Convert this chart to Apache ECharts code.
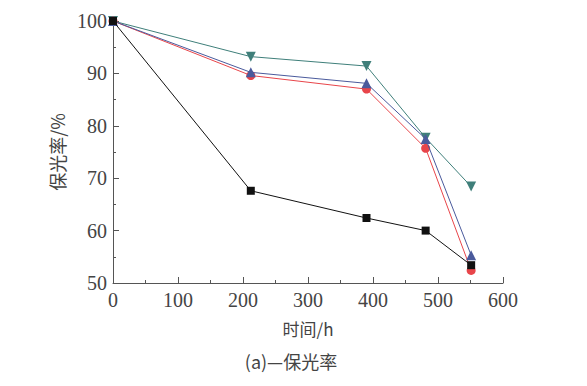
<!DOCTYPE html>
<html><head><meta charset="utf-8">
<script src="https://cdn.jsdelivr.net/npm/echarts@6/dist/echarts.min.js"></script>
<style>html,body{margin:0;padding:0;background:#fff}#c{width:587px;height:386px}</style>
</head><body><div id="c"></div>
<script>
const times = [0, 212, 390, 481, 551];
const seriesBlack = [100, 67.6, 62.4, 60.0, 53.4];
const seriesRed = [100, 89.6, 87.0, 75.7, 52.4];
const seriesBlue = [100, 90.2, 88.1, 77.5, 55.3];
const seriesTeal = [100, 93.2, 91.4, 77.7, 68.4];
const xLabel = '时间/h';
const yLabel = '保光率/%';
const caption = '(a)—保光率';

const pair = arr => times.map((t, i) => [t, arr[i]]);
const tri = 'path://M0,-1L1,1L-1,1Z';
const triDown = 'path://M0,1L1,-1L-1,-1Z';
function s(data, color, symbol, size, z) {
  return { type: 'line', data: pair(data), symbol: symbol, symbolSize: size, z: z,
    lineStyle: { color: color, width: 1 }, itemStyle: { color: color }, animation: false };
}
const axisCol = '#555';
const font = 'Liberation Serif';
const cjk = 'Noto Sans CJK SC';
const chart = echarts.init(document.getElementById('c'), null, { renderer: 'svg' });
chart.setOption({
  backgroundColor: '#fff',
  textStyle: { fontFamily: font },
  grid: { left: 113, right: 84, top: 21, bottom: 103 },
  title: { text: caption, left: 286, top: 347, textAlign: 'center',
    textStyle: { fontFamily: cjk, fontWeight: 'normal', fontSize: 18, color: '#444' } },
  xAxis: { type: 'value', min: 0, max: 600, interval: 100,
    name: xLabel, nameLocation: 'middle', nameGap: 37,
    nameTextStyle: { fontFamily: cjk, fontSize: 17, color: '#444' },
    axisLine: { lineStyle: { color: axisCol, width: 1 } },
    axisTick: { inside: true, length: 6, lineStyle: { color: axisCol } },
    minorTick: { show: true, splitNumber: 2, length: 3, lineStyle: { color: axisCol } },
    axisLabel: { fontFamily: 'Liberation Serif', fontStyle: 'normal', fontSize: 20, color: '#444', margin: 7 },
    splitLine: { show: false } },
  yAxis: { type: 'value', min: 50, max: 100, interval: 10,
    name: yLabel, nameLocation: 'middle', nameGap: 46, nameRotate: 90,
    nameTextStyle: { fontFamily: cjk, fontSize: 18, color: '#444' },
    axisLine: { show: true, lineStyle: { color: axisCol, width: 1 } },
    axisTick: { show: true, inside: true, length: 6, lineStyle: { color: axisCol } },
    minorTick: { show: true, splitNumber: 2, length: 3, lineStyle: { color: axisCol } },
    axisLabel: { fontFamily: font, fontSize: 20, color: '#444', margin: 6 },
    splitLine: { show: false } },
  series: [
    s(seriesBlack, '#111111', 'rect', 8, 5),
    s(seriesRed, '#e8454a', 'circle', 9, 3),
    s(seriesBlue, '#4a5a9c', tri, 10, 4),
    s(seriesTeal, '#3f7f7a', triDown, 10, 2)
  ]
});
</script></body></html>
